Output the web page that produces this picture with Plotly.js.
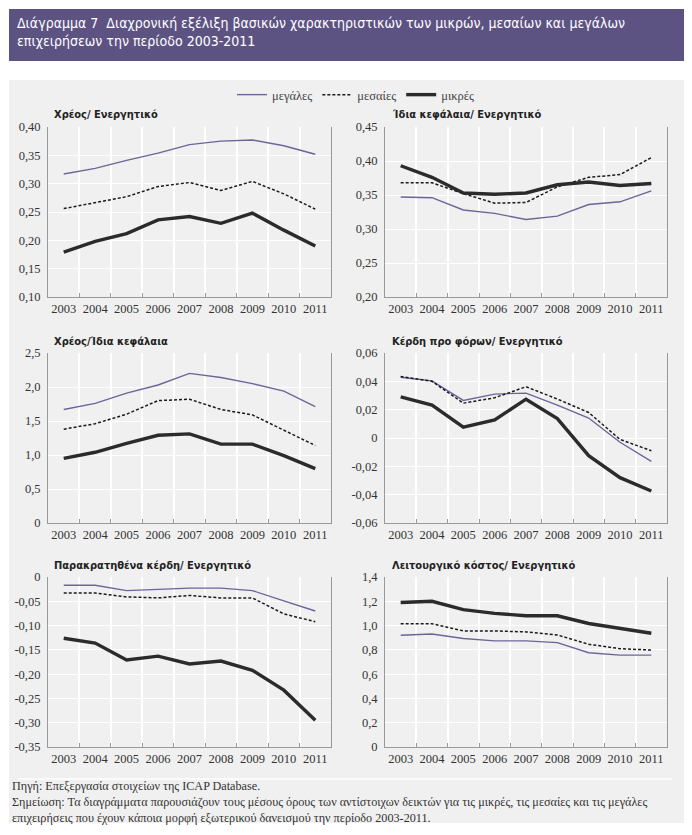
<!DOCTYPE html>
<html>
<head>
<meta charset="utf-8">
<script src="https://cdn.plot.ly/plotly-3.0.1.min.js"></script>
<style>
html,body{margin:0;padding:0;background:#fff;}
#chart{width:692px;height:835px;}
</style>
</head>
<body>
<div id="chart"></div>
<script>
// ---------- DATA ----------
const years = ["2003","2004","2005","2006","2007","2008","2009","2010","2011"];
const seriesNames = ["μεγάλες","μεσαίες","μικρές"];

// Χρέος/ Ενεργητικό
const debtAssets_large  = [0.317,0.327,0.341,0.354,0.369,0.375,0.377,0.367,0.352];
const debtAssets_medium = [0.256,0.266,0.277,0.295,0.302,0.288,0.304,0.282,0.255];
const debtAssets_small  = [0.179,0.198,0.212,0.236,0.242,0.230,0.248,0.218,0.190];

// Ίδια κεφάλαια/ Ενεργητικό
const equityAssets_large  = [0.347,0.346,0.328,0.323,0.314,0.319,0.336,0.340,0.356];
const equityAssets_medium = [0.368,0.368,0.352,0.338,0.339,0.362,0.376,0.380,0.405];
const equityAssets_small  = [0.393,0.376,0.353,0.351,0.353,0.365,0.369,0.364,0.367];

// Χρέος/Ίδια κεφάλαια
const debtEquity_large  = [1.67,1.76,1.91,2.03,2.20,2.14,2.05,1.94,1.71];
const debtEquity_medium = [1.38,1.46,1.60,1.80,1.82,1.67,1.59,1.36,1.14];
const debtEquity_small  = [0.95,1.04,1.17,1.29,1.31,1.16,1.16,0.99,0.80];

// Κέρδη προ φόρων/ Ενεργητικό
const ebtAssets_large  = [0.0429,0.0403,0.0265,0.0310,0.0317,0.0232,0.0141,-0.0030,-0.0165];
const ebtAssets_medium = [0.0434,0.0400,0.0246,0.0284,0.0362,0.0275,0.0180,-0.0010,-0.0090];
const ebtAssets_small  = [0.0290,0.0232,0.0077,0.0127,0.0274,0.0137,-0.0125,-0.0280,-0.0374];

// Παρακρατηθένα κέρδη/ Ενεργητικό
const retained_large  = [-0.017,-0.017,-0.028,-0.026,-0.023,-0.023,-0.028,-0.049,-0.070];
const retained_medium = [-0.033,-0.033,-0.041,-0.043,-0.038,-0.043,-0.043,-0.076,-0.092];
const retained_small  = [-0.126,-0.136,-0.171,-0.163,-0.179,-0.173,-0.192,-0.233,-0.295];

// Λειτουργικό κόστος/ Ενεργητικό
const opcost_large  = [0.920,0.931,0.893,0.874,0.874,0.860,0.776,0.757,0.757];
const opcost_medium = [1.015,1.015,0.956,0.956,0.948,0.923,0.846,0.810,0.798];
const opcost_small  = [1.190,1.200,1.131,1.100,1.081,1.081,1.017,0.976,0.937];

// Tick labels
const ticks1_vals = [0.10,0.15,0.20,0.25,0.30,0.35,0.40];
const ticks1_text = ["0,10","0,15","0,20","0,25","0,30","0,35","0,40"];
const ticks2_vals = [0.20,0.25,0.30,0.35,0.40,0.45];
const ticks2_text = ["0,20","0,25","0,30","0,35","0,40","0,45"];
const ticks3_vals = [0,0.5,1.0,1.5,2.0,2.5];
const ticks3_text = ["0","0,5","1,0","1,5","2,0","2,5"];
const ticks4_vals = [-0.06,-0.04,-0.02,0,0.02,0.04,0.06];
const ticks4_text = ["-0,06","-0,04","-0,02","0","0,02","0,04","0,06"];
const ticks5_vals = [-0.35,-0.30,-0.25,-0.20,-0.15,-0.10,-0.05,0];
const ticks5_text = ["-0,35","-0,30","-0,25","-0,20","-0,15","-0,10","-0,05","0"];
const ticks6_vals = [0,0.2,0.4,0.6,0.8,1.0,1.2,1.4];
const ticks6_text = ["0","0,2","0,4","0,6","0,8","1,0","1,2","1,4"];

const panelTitles = ["Χρέος/ Ενεργητικό","Ίδια κεφάλαια/ Ενεργητικό","Χρέος/Ίδια κεφάλαια",
                     "Κέρδη προ φόρων/ Ενεργητικό","Παρακρατηθένα κέρδη/ Ενεργητικό","Λειτουργικό κόστος/ Ενεργητικό"];
const headerText = "Διάγραμμα 7  Διαχρονική εξέλιξη βασικών χαρακτηριστικών των μικρών, μεσαίων και μεγάλων<br>επιχειρήσεων την περίοδο 2003-2011";
const footerText = "Πηγή: Επεξεργασία στοιχείων της ICAP Database.<br>Σημείωση: Τα διαγράμματα παρουσιάζουν τους μέσους όρους των αντίστοιχων δεικτών για τις μικρές, τις μεσαίες και τις μεγάλες<br>επιχειρήσεις που έχουν κάποια μορφή εξωτερικού δανεισμού την περίοδο 2003-2011.";

// ---------- BUILD ----------
const W = 692, H = 835;
const px = x => x / W;
const py = y => 1 - y / H;

const panels = [
  {data:[debtAssets_large,debtAssets_medium,debtAssets_small], range:[0.10,0.40], tv:ticks1_vals, tt:ticks1_text, x:[48,331], y:[127,297], tx:52},
  {data:[equityAssets_large,equityAssets_medium,equityAssets_small], range:[0.20,0.45], tv:ticks2_vals, tt:ticks2_text, x:[385,667], y:[127,297], tx:390},
  {data:[debtEquity_large,debtEquity_medium,debtEquity_small], range:[0,2.5], tv:ticks3_vals, tt:ticks3_text, x:[48,331], y:[353,523], tx:52},
  {data:[ebtAssets_large,ebtAssets_medium,ebtAssets_small], range:[-0.06,0.06], tv:ticks4_vals, tt:ticks4_text, x:[385,667], y:[353,523], tx:390},
  {data:[retained_large,retained_medium,retained_small], range:[-0.35,0], tv:ticks5_vals, tt:ticks5_text, x:[48,331], y:[577,747], tx:52},
  {data:[opcost_large,opcost_medium,opcost_small], range:[0,1.4], tv:ticks6_vals, tt:ticks6_text, x:[385,667], y:[577,747], tx:390}
];

const lineStyles = [
  {color:"#6b6598", width:1.4, dash:"solid"},
  {color:"#1a1a1a", width:1.5, dash:"3px,2px"},
  {color:"#2b2b2b", width:3.4, dash:"solid"}
];

const traces = [];
const layout = {
  width:W, height:H,
  margin:{l:0,r:0,t:0,b:0},
  paper_bgcolor:"#ffffff",
  plot_bgcolor:"rgba(0,0,0,0)",
  showlegend:true,
  legend:{orientation:"h", x:px(232), y:py(95), xanchor:"left", yanchor:"middle",
          font:{family:"Liberation Serif", size:12.5, color:"#444"}, bgcolor:"rgba(0,0,0,0)",
          itemwidth:30, tracegroupgap:0, traceorder:"normal"},
  shapes:[
    {type:"rect", xref:"paper", yref:"paper", x0:px(9), x1:px(684), y0:py(9), y1:py(61),
     fillcolor:"#5d5383", line:{width:0}, layer:"below"},
    {type:"rect", xref:"paper", yref:"paper", x0:px(9), x1:px(684), y0:py(80), y1:py(823),
     fillcolor:"#f0f0f0", line:{width:0}, layer:"below"},
    {type:"line", xref:"paper", yref:"paper", x0:px(18), x1:px(672), y0:py(779), y1:py(779),
     line:{color:"#ffffff", width:1.5}, layer:"below"}
  ],
  annotations:[
    {text:headerText, xref:"paper", yref:"paper", x:px(15), y:py(32), xanchor:"left", yanchor:"middle",
     align:"left", showarrow:false, font:{family:"DejaVu Sans Condensed, Noto Sans", size:14, color:"#ffffff"}},
    {text:footerText, xref:"paper", yref:"paper", x:px(10), y:py(802), xanchor:"left", yanchor:"middle",
     align:"left", showarrow:false, font:{family:"Liberation Serif", size:12.2, color:"#333"}}
  ]
};

panels.forEach((p, i) => {
  const n = i + 1;
  const xa = n === 1 ? "xaxis" : "xaxis" + n;
  const ya = n === 1 ? "yaxis" : "yaxis" + n;
  const xr = n === 1 ? "x" : "x" + n;
  const yr = n === 1 ? "y" : "y" + n;
  p.data.forEach((vals, s) => {
    traces.push({
      type:"scatter", mode:"lines", x:years, y:vals, name:seriesNames[s],
      xaxis:xr, yaxis:yr, showlegend: i === 0,
      line:{color:lineStyles[s].color, width:lineStyles[s].width, dash:lineStyles[s].dash, shape:"linear"},
      hoverinfo:"skip"
    });
  });
  layout[xa] = {
    domain:[px(p.x[0]), px(p.x[1])], anchor:yr, type:"category",
    range:[-0.5, 8.5], tickson:"boundaries", ticks:"inside", ticklen:4, tickcolor:"#999",
    tickangle:0, automargin:false,
    showgrid:true, gridcolor:"#ffffff", gridwidth:2,
    showline:true, linecolor:"#999", linewidth:1, zeroline:false, fixedrange:true,
    tickfont:{family:"Liberation Serif", size:12.5, color:"#333"}
  };
  layout[ya] = {
    domain:[py(p.y[1]), py(p.y[0])], anchor:xr, range:p.range,
    tickmode:"array", tickvals:p.tv, ticktext:p.tt,
    showgrid:true, gridcolor:"#ffffff", gridwidth:1,
    showline:true, linecolor:"#999", linewidth:1, mirror:true, zeroline:false,
    ticks:"", ticklabelstandoff:4, fixedrange:true, automargin:false,
    tickfont:{family:"Liberation Serif", size:12.5, color:"#333"}
  };
  layout.annotations.push({
    text:"<b>" + panelTitles[i] + "</b>", xref:"paper", yref:"paper",
    x:px(p.tx), y:py(p.y[0] - 12), xanchor:"left", yanchor:"middle", showarrow:false,
    font:{family:"DejaVu Sans Condensed, Noto Sans", size:11, color:"#222"}
  });
});

Plotly.newPlot("chart", traces, layout, {staticPlot:true, displayModeBar:false});
</script>
</body>
</html>
